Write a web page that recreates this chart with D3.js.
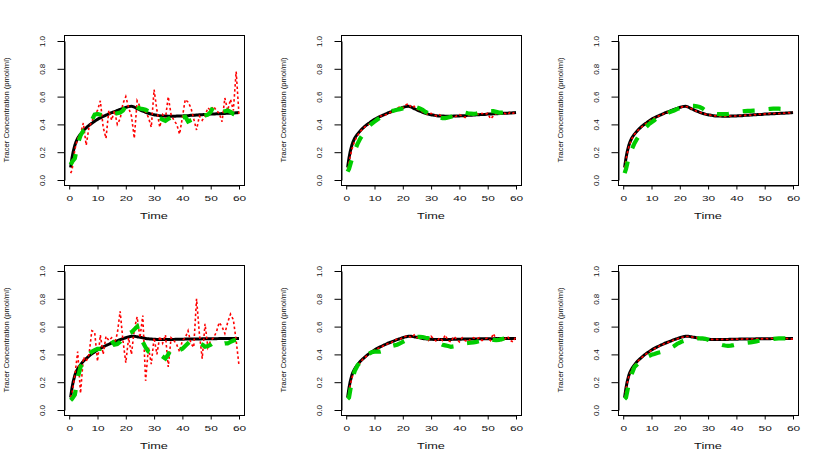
<!DOCTYPE html>
<html>
<head>
<meta charset="utf-8">
<script src="https://cdn.jsdelivr.net/npm/d3@7"></script>
<style>
  html, body { margin: 0; padding: 0; background: #fff; }
  svg { display: block; }
  text { font-family: "Liberation Sans", Arial, Helvetica, sans-serif; fill: #111; }
</style>
</head>
<body>
<svg id="chart" width="830" height="460"></svg>
<script>
// ---------------- data ----------------
const times = [0.5,1,2,3,4,5,6,7,8,9,10,11,12,13,14,15,16,17,18,19,20,21,22,23,24,25,26,27,28,29,30,
  31,32,33,34,35,36,37,38,39,40,41,42,43,44,45,46,47,48,49,50,51,52,53,54,55,56,57,58,59,60];
const xTicks = [0,10,20,30,40,50,60];
const yTicks = [0,0.2,0.4,0.6,0.8,1.0];
const xLabel = "Time";
const yLabel = "Tracer Concentration (pmol/ml)";

// model curve, top row
const modelTop = [0.09,0.16,0.25,0.30,0.33,0.355,0.375,0.393,0.408,0.423,0.436,0.447,0.457,0.466,0.475,0.484,0.492,0.5,0.508,0.515,0.522,
  0.528,0.530,0.524,0.514,0.504,0.495,0.487,0.48,0.474,0.469,0.466,0.463,0.461,0.46,0.459,0.459,0.459,0.46,0.46,0.461,
  0.462,0.463,0.465,0.466,0.467,0.469,0.47,0.471,0.472,0.474,0.475,0.476,0.477,0.478,0.479,0.48,0.481,0.482,0.483,0.485];
// model curve, bottom row
const modelBottom = [0.09,0.16,0.25,0.295,0.325,0.35,0.37,0.388,0.404,0.418,0.431,0.443,0.454,0.464,0.473,0.482,0.49,0.498,0.506,0.513,0.52,
  0.526,0.530,0.530,0.527,0.523,0.519,0.515,0.512,0.51,0.509,0.508,0.508,0.508,0.508,0.508,0.508,0.508,0.509,0.509,0.509,
  0.51,0.51,0.51,0.511,0.511,0.511,0.512,0.512,0.512,0.513,0.513,0.513,0.514,0.514,0.514,0.515,0.515,0.515,0.515,0.515];

// red dotted series (observed)
const red1 = [0.05,0.07,0.22,0.30,0.33,0.41,0.25,0.38,0.42,0.47,0.50,0.57,0.38,0.30,0.50,0.43,0.50,0.40,0.44,0.55,0.60,
  0.52,0.46,0.30,0.57,0.53,0.50,0.49,0.45,0.38,0.65,0.50,0.38,0.47,0.44,0.60,0.47,0.43,0.40,0.33,0.45,
  0.58,0.56,0.52,0.44,0.36,0.46,0.43,0.46,0.52,0.50,0.53,0.50,0.48,0.42,0.59,0.50,0.58,0.50,0.78,0.47];
const red2 = [0.08,0.13,0.22,0.28,0.32,0.35,0.37,0.39,0.40,0.41,0.43,0.44,0.46,0.46,0.47,0.48,0.49,0.50,0.51,0.53,0.52,
  0.54,0.55,0.52,0.53,0.51,0.50,0.49,0.48,0.47,0.48,0.47,0.46,0.47,0.45,0.43,0.45,0.46,0.45,0.46,0.47,
  0.46,0.45,0.47,0.46,0.47,0.48,0.47,0.48,0.47,0.48,0.44,0.46,0.48,0.47,0.48,0.48,0.47,0.49,0.48,0.49];
const red3 = [0.085,0.15,0.24,0.295,0.33,0.352,0.373,0.39,0.405,0.42,0.434,0.446,0.455,0.465,0.474,0.483,0.49,0.498,0.507,0.514,0.52,
  0.527,0.53,0.524,0.514,0.503,0.494,0.487,0.48,0.474,0.47,0.466,0.462,0.461,0.46,0.459,0.458,0.459,0.46,0.461,0.46,
  0.462,0.464,0.465,0.468,0.466,0.472,0.468,0.474,0.47,0.476,0.474,0.48,0.476,0.481,0.477,0.483,0.48,0.485,0.483,0.49];
const red4 = [0.09,0.12,0.25,0.42,0.12,0.38,0.35,0.40,0.57,0.56,0.35,0.54,0.40,0.53,0.50,0.52,0.48,0.55,0.71,0.50,0.34,
  0.52,0.40,0.58,0.67,0.52,0.68,0.21,0.45,0.33,0.52,0.40,0.53,0.48,0.54,0.31,0.52,0.50,0.47,0.42,0.50,
  0.52,0.57,0.48,0.45,0.80,0.55,0.37,0.62,0.45,0.50,0.52,0.56,0.63,0.60,0.55,0.63,0.69,0.65,0.50,0.32];
const red5 = [0.09,0.14,0.23,0.29,0.32,0.34,0.37,0.385,0.40,0.41,0.43,0.44,0.45,0.46,0.47,0.48,0.485,0.50,0.51,0.51,0.52,
  0.53,0.535,0.52,0.54,0.52,0.53,0.51,0.52,0.50,0.53,0.51,0.49,0.52,0.50,0.54,0.50,0.49,0.53,0.51,0.49,
  0.52,0.50,0.49,0.51,0.52,0.51,0.52,0.50,0.51,0.52,0.50,0.55,0.51,0.52,0.50,0.51,0.53,0.50,0.49,0.53];
const red6 = [0.085,0.155,0.245,0.29,0.322,0.347,0.368,0.386,0.402,0.416,0.429,0.441,0.452,0.462,0.471,0.48,0.488,0.496,0.504,0.511,0.518,
  0.524,0.528,0.529,0.527,0.523,0.519,0.515,0.512,0.51,0.509,0.508,0.507,0.508,0.507,0.508,0.508,0.507,0.509,0.508,0.51,
  0.509,0.511,0.51,0.512,0.511,0.513,0.512,0.514,0.512,0.515,0.513,0.516,0.514,0.516,0.514,0.516,0.515,0.514,0.512,0.51];

// green dashed series (estimated)
const green1 = [0.11,0.13,0.155,0.26,0.32,0.355,0.37,0.39,0.43,0.47,0.475,0.47,0.465,0.47,0.465,0.47,0.475,0.48,0.485,0.50,0.53,
  0.54,0.545,0.54,0.525,0.515,0.51,0.505,0.495,0.49,0.47,0.46,0.445,0.435,0.425,0.44,0.45,0.445,0.435,0.43,0.45,
  0.455,0.42,0.43,0.44,0.45,0.455,0.46,0.465,0.47,0.49,0.53,0.50,0.49,0.49,0.495,0.50,0.49,0.475,0.47,0.47];
const green2 = [0.06,0.08,0.15,0.21,0.26,0.30,0.33,0.36,0.385,0.405,0.42,0.435,0.45,0.46,0.47,0.485,0.495,0.50,0.505,0.51,0.515,
  0.52,0.525,0.525,0.525,0.522,0.515,0.505,0.49,0.48,0.47,0.465,0.455,0.45,0.445,0.445,0.45,0.455,0.458,0.46,0.465,
  0.48,0.485,0.48,0.478,0.476,0.478,0.485,0.492,0.495,0.495,0.495,0.495,0.49,0.485,0.485,0.487,0.49,0.492,0.494,0.495];
const green3 = [0.05,0.08,0.17,0.22,0.265,0.30,0.33,0.355,0.38,0.40,0.415,0.43,0.445,0.455,0.465,0.475,0.485,0.493,0.50,0.51,0.518,
  0.525,0.53,0.532,0.533,0.533,0.53,0.525,0.515,0.50,0.485,0.478,0.476,0.475,0.474,0.474,0.474,0.475,0.478,0.482,0.486,
  0.49,0.494,0.496,0.497,0.498,0.499,0.50,0.502,0.505,0.507,0.51,0.512,0.513,0.513,0.513,0.512,0.511,0.51,0.508,0.506];
const green4 = [0.07,0.08,0.11,0.23,0.31,0.345,0.375,0.40,0.42,0.43,0.44,0.44,0.455,0.47,0.49,0.50,0.47,0.475,0.49,0.52,0.55,
  0.55,0.56,0.58,0.60,0.53,0.49,0.45,0.42,0.41,0.41,0.41,0.40,0.385,0.37,0.40,0.44,0.455,0.445,0.43,0.44,
  0.46,0.48,0.50,0.50,0.50,0.48,0.47,0.455,0.46,0.47,0.485,0.475,0.47,0.475,0.48,0.48,0.49,0.50,0.505,0.51];
const green5 = [0.08,0.09,0.21,0.28,0.32,0.345,0.37,0.39,0.405,0.415,0.42,0.42,0.42,0.425,0.435,0.45,0.46,0.465,0.47,0.48,0.49,
  0.50,0.51,0.515,0.52,0.525,0.527,0.525,0.52,0.517,0.515,0.505,0.495,0.48,0.47,0.465,0.46,0.455,0.458,0.465,0.472,
  0.478,0.48,0.482,0.485,0.487,0.49,0.495,0.50,0.505,0.51,0.51,0.505,0.503,0.505,0.51,0.515,0.52,0.525,0.532,0.54];
const green6 = [0.08,0.09,0.19,0.26,0.31,0.33,0.35,0.365,0.378,0.388,0.397,0.403,0.41,0.415,0.42,0.428,0.436,0.448,0.46,0.475,0.485,
  0.495,0.502,0.508,0.511,0.513,0.515,0.516,0.516,0.512,0.505,0.495,0.487,0.48,0.474,0.468,0.464,0.462,0.463,0.467,0.472,
  0.476,0.479,0.482,0.485,0.487,0.49,0.494,0.498,0.501,0.504,0.507,0.51,0.512,0.514,0.515,0.515,0.515,0.515,0.515,0.515];

// ---------------- layout ----------------
const colLeft = [64, 341, 618];
const rowTop = [35, 265];
const boxW = 180, boxH = 150;

const panels = [
  {col:0,row:0, model:modelTop,    red:red1, green:green1},
  {col:1,row:0, model:modelTop,    red:red2, green:green2},
  {col:2,row:0, model:modelTop,    red:red3, green:green3},
  {col:0,row:1, model:modelBottom, red:red4, green:green4},
  {col:1,row:1, model:modelBottom, red:red5, green:green5},
  {col:2,row:1, model:modelBottom, red:red6, green:green6}
];

const svg = d3.select("#chart");
svg.append("rect").attr("width",830).attr("height",460).attr("fill","#fff");

panels.forEach(p => {
  const L = colLeft[p.col], T = rowTop[p.row], B = T + boxH;
  const x = d3.scaleLinear().domain([0,60]).range([L + 5.2, L + 175]);
  const y = d3.scaleLinear().domain([0,1]).range([T + 145, T + 6]);
  const g = svg.append("g");

  const line = vals => d3.line()
      .x((d,i) => x(times[i]))
      .y(d => y(d))(vals);

  // black model
  g.append("path").attr("d", d3.line().curve(d3.curveMonotoneX)
      .x((d,i)=>x(times[i])).y(d=>y(d))(p.model))
    .attr("fill","none").attr("stroke","#000").attr("stroke-width",3)
    .attr("stroke-linejoin","round");
  // red dotted
  g.append("path").attr("d", line(p.red))
    .attr("fill","none").attr("stroke","#ff0000").attr("stroke-width",1.6)
    .attr("stroke-dasharray","2.5,2.5");
  // green dashed
  g.append("path").attr("d", line(p.green))
    .attr("fill","none").attr("stroke","#00cd00").attr("stroke-width",4.2)
    .attr("stroke-dasharray","12,14");

  // box
  g.append("rect").attr("x", L + 0.5).attr("y", T + 0.5)
    .attr("width", boxW).attr("height", boxH)
    .attr("fill","none").attr("stroke","#000").attr("stroke-width",1);

  // x axis
  const xa = g.append("g").attr("transform", `translate(0,${B + 0.5})`)
    .call(d3.axisBottom(x).tickValues(xTicks).tickSize(4).tickSizeOuter(0).tickFormat(d3.format("d")));
  xa.select(".domain").attr("stroke","#000");
  xa.selectAll(".tick line").attr("stroke","#000");
  xa.selectAll(".tick text")
    .attr("y", null).attr("dy", null)
    .attr("transform", "translate(0,15.2) scale(1.7,1)")
    .attr("font-size", 7).attr("font-family", null).attr("fill","#111");
  xa.attr("font-family", null).attr("font-size", null);

  // y axis
  const ya = g.append("g").attr("transform", `translate(${L + 0.5},0)`)
    .call(d3.axisLeft(y).tickValues(yTicks).tickSize(7).tickSizeOuter(0).tickFormat(d3.format(".1f")));
  ya.select(".domain").attr("stroke","#000");
  ya.selectAll(".tick line").attr("stroke","#000");
  ya.selectAll(".tick text")
    .attr("x", null).attr("dy", null)
    .attr("text-anchor","middle")
    .attr("transform", "translate(-19.5,0) rotate(-90)")
    .attr("font-size", 8).attr("fill","#111");
  ya.attr("font-family", null).attr("font-size", null);

  // axis titles
  g.append("text").text(xLabel)
    .attr("text-anchor","middle")
    .attr("transform", `translate(${L + boxW/2},${B + 33.7}) scale(1.5,1)`)
    .attr("font-size", 8.5);
  g.append("text").text(yLabel)
    .attr("text-anchor","middle")
    .attr("transform", `translate(${L - 55.5},${T + boxH/2}) rotate(-90)`)
    .attr("font-size", 7.6);
});
</script>
</body>
</html>
